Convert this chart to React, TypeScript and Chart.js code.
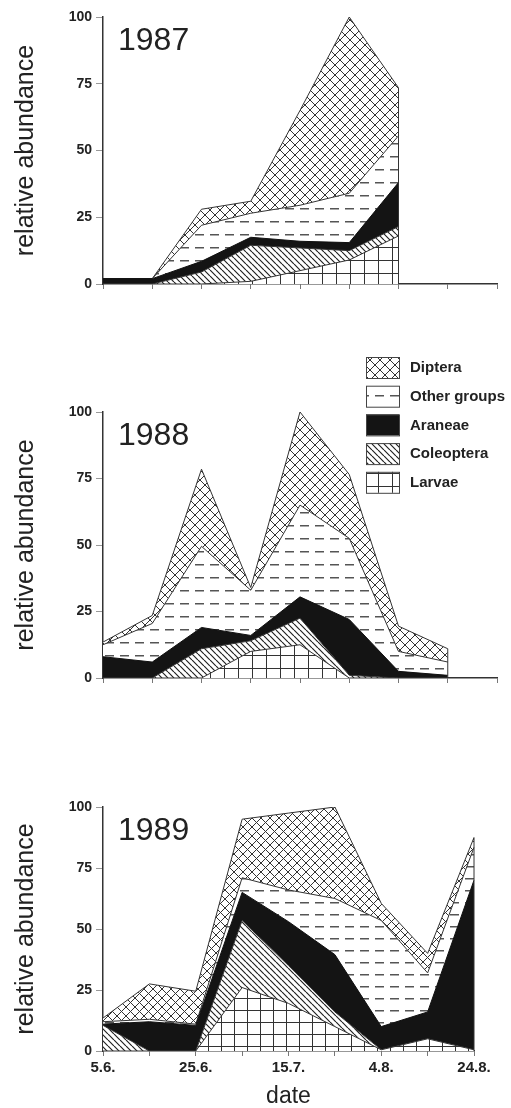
import React, { useEffect, useRef } from 'react';
import { Chart, registerables } from 'chart.js';
Chart.register(...registerables);

const FONT = "'Liberation Sans', Arial, Helvetica, sans-serif";

const dateLabels = ['5.6.', '15.6.', '25.6.', '5.7.', '15.7.', '25.7.', '4.8.', '14.8.', '24.8.'];
const shownDateIdx = [0, 2, 4, 6, 8];
const yTickValues = [0, 25, 50, 75, 100];
const legendNames = ['Diptera', 'Other groups', 'Araneae', 'Coleoptera', 'Larvae'];

// 1987 (stacked from bottom: Larvae, Coleoptera, Araneae, Other groups, Diptera)
const larvae1987 = [0, 0, 0, 1, 5, 9, 18];
const coleo1987 = [0, 0, 4.5, 13.5, 8.5, 3.5, 3.5];
const aran1987 = [2, 2, 4, 3, 2.5, 3, 16.5];
const other1987 = [0, 0, 13.5, 9, 13.5, 18.5, 17.5];
const dipt1987 = [0, 0, 6, 4.5, 35.5, 66, 18];

// 1988
const larvae1988 = [0, 0, 0, 10, 12.5, 0, 0, 0];
const coleo1988 = [0, 0, 11, 4, 10, 1, 0, 0];
const aran1988 = [8, 6, 8, 2, 8, 21, 2.5, 1];
const other1988 = [4.5, 14.5, 30.5, 17, 34.5, 30.5, 7.5, 5];
const dipt1988 = [1, 3, 29, 1, 35, 24, 9.5, 5];

// 1989
const larvae1989 = [0, 0, 0, 26, 19.5, 10, 0.5, 5, 0.5];
const coleo1989 = [10.5, 0, 0, 27.5, 15.5, 6, 0, 0, 0];
const aran1989 = [0.5, 12, 10.5, 11.5, 18, 23.5, 9.5, 11, 69.5];
const other1989 = [1, 1, 0.5, 6, 13, 23, 43.5, 16, 13.5];
const dipt1989 = [1.5, 14.5, 13.5, 24, 31.5, 37.5, 7, 8, 4];

function tile(w: number, h: number, draw: (c: CanvasRenderingContext2D) => void) {
  const c = document.createElement('canvas');
  c.width = w;
  c.height = h;
  const ctx = c.getContext('2d')!;
  ctx.fillStyle = '#fff';
  ctx.fillRect(0, 0, w, h);
  draw(ctx);
  return ctx.createPattern(c, 'repeat')!;
}

function makePatterns(s: number) {
  const n = Math.round(10 * s);
  const dipt = tile(n, n, (ctx) => {
    ctx.strokeStyle = '#333';
    ctx.lineWidth = 1;
    ctx.beginPath();
    for (const k of [-n, 0, n]) {
      ctx.moveTo(k, 0);
      ctx.lineTo(k + n, n);
      ctx.moveTo(k + n, 0);
      ctx.lineTo(k, n);
    }
    ctx.stroke();
  });
  const dh = Math.round(13.3 * s);
  const other = tile(15, dh, (ctx) => {
    ctx.fillStyle = '#555';
    ctx.fillRect(0, 0, 9, 1.5);
  });
  const m = Math.max(4, Math.round(6 * s));
  const coleo = tile(m, m, (ctx) => {
    ctx.strokeStyle = '#222';
    ctx.lineWidth = 1.2;
    ctx.beginPath();
    for (const k of [-m, 0, m]) {
      ctx.moveTo(k, 0);
      ctx.lineTo(k + m, m);
    }
    ctx.stroke();
  });
  const gw = Math.round(14 * s);
  const gh = Math.round(13 * s);
  const larvae = tile(gw, gh, (ctx) => {
    ctx.fillStyle = '#333';
    ctx.fillRect(0, 0, 1, gh);
    ctx.fillRect(0, 0, gw, 1);
  });
  return { dipt, other, aran: '#141414', coleo, larvae };
}

type PanelCfg = {
  year: string;
  larvae: number[];
  coleo: number[];
  aran: number[];
  other: number[];
  dipt: number[];
  padding: { top: number; right: number; bottom: number; left: number };
  xHeight: number;
  showDates: boolean;
  s: number;
  legend: boolean;
};

function buildChart(canvas: HTMLCanvasElement, cfg: PanelCfg) {
  const P = makePatterns(cfg.s);
  const legendFills: any[] = [P.dipt, P.other, P.aran, P.coleo, P.larvae];
  const decor = {
    id: 'panelDecor',
    afterDatasetsDraw(chart: any) {
      const { ctx, chartArea, scales } = chart;
      const ds = chart.data.datasets;
      const last = ds[0].data.length - 1;
      const total = ds.reduce((a: number, d: any) => a + (d.data[last] as number), 0);
      const x = scales.x.getPixelForValue(last);
      ctx.save();
      ctx.strokeStyle = '#333';
      ctx.lineWidth = 1;
      ctx.beginPath();
      ctx.moveTo(x, scales.y.getPixelForValue(0));
      ctx.lineTo(x, scales.y.getPixelForValue(total));
      ctx.stroke();
      ctx.font = `32px ${FONT}`;
      ctx.fillStyle = '#222';
      ctx.textBaseline = 'alphabetic';
      ctx.textAlign = 'left';
      ctx.fillText(cfg.year, chartArea.left + 15, chartArea.top + 33);
      if (cfg.legend) {
        legendNames.forEach((name, i) => {
          const bx = 366;
          const by = 27 + i * 28.7;
          ctx.fillStyle = legendFills[i];
          ctx.fillRect(bx, by, 33, 21);
          ctx.strokeStyle = '#444';
          ctx.lineWidth = 1;
          ctx.strokeRect(bx + 0.5, by + 0.5, 33, 21);
          ctx.fillStyle = '#222';
          ctx.font = `bold 15px ${FONT}`;
          ctx.textBaseline = 'middle';
          ctx.fillText(name, 410, by + 11);
        });
      }
      ctx.restore();
    },
  };

  const line = { borderColor: '#333', borderWidth: 1, pointRadius: 0, tension: 0 };
  return new Chart(canvas, {
    type: 'line',
    data: {
      labels: dateLabels,
      datasets: [
        { label: 'Larvae', data: cfg.larvae, fill: 'origin', backgroundColor: P.larvae as any, ...line },
        { label: 'Coleoptera', data: cfg.coleo, fill: '-1', backgroundColor: P.coleo as any, ...line },
        { label: 'Araneae', data: cfg.aran, fill: '-1', backgroundColor: P.aran, ...line, borderColor: '#111' },
        { label: 'Other groups', data: cfg.other, fill: '-1', backgroundColor: P.other as any, ...line },
        { label: 'Diptera', data: cfg.dipt, fill: '-1', backgroundColor: P.dipt as any, ...line },
      ],
    },
    options: {
      responsive: false,
      animation: false,
      layout: { padding: cfg.padding },
      plugins: { legend: { display: false }, tooltip: { enabled: false } },
      scales: {
        x: {
          type: 'category',
          offset: false,
          afterFit: (sc: any) => {
            sc.height = cfg.xHeight;
          },
          ticks: {
            display: true,
            autoSkip: false,
            maxRotation: 0,
            minRotation: 0,
            padding: 3,
            color: '#222',
            font: { family: FONT, size: 15, weight: 'bold' },
            callback: (_v: any, i: number) =>
              cfg.showDates && shownDateIdx.includes(i) ? dateLabels[i] : '',
          },
          grid: { display: true, drawOnChartArea: false, drawTicks: true, tickLength: 5, color: '#777' },
          border: { display: true, color: '#333', width: 1.5 },
          title: {
            display: cfg.showDates,
            text: 'date',
            color: '#222',
            font: { family: FONT, size: 23, lineHeight: 1 },
            padding: { top: 0, bottom: 0 },
          },
        },
        y: {
          type: 'linear',
          stacked: true,
          min: 0,
          max: 100,
          afterFit: (sc: any) => {
            sc.width = 103;
          },
          afterBuildTicks: (sc: any) => {
            sc.ticks = yTickValues.map((v) => ({ value: v }));
          },
          ticks: {
            padding: 4,
            color: '#222',
            font: { family: FONT, size: 14, weight: 'bold' },
            callback: (v: any) => String(v),
          },
          grid: { display: true, drawOnChartArea: false, drawTicks: true, tickLength: 7, color: '#999' },
          border: { display: true, color: '#333', width: 1.5 },
          title: {
            display: true,
            text: 'relative abundance',
            color: '#222',
            font: { family: FONT, size: 25, lineHeight: 1 },
            padding: { top: 14, bottom: 0 },
          },
        },
      },
    } as any,
    plugins: [decor],
  });
}

export default function App() {
  const r1 = useRef<HTMLCanvasElement>(null);
  const r2 = useRef<HTMLCanvasElement>(null);
  const r3 = useRef<HTMLCanvasElement>(null);

  useEffect(() => {
    const charts = [
      buildChart(r1.current!, {
        year: '1987',
        larvae: larvae1987,
        coleo: coleo1987,
        aran: aran1987,
        other: other1987,
        dipt: dipt1987,
        padding: { top: 17, right: 14, bottom: 16, left: 0 },
        xHeight: 30,
        showDates: false,
        s: 1,
        legend: false,
      }),
      buildChart(r2.current!, {
        year: '1988',
        larvae: larvae1988,
        coleo: coleo1988,
        aran: aran1988,
        other: other1988,
        dipt: dipt1988,
        padding: { top: 82, right: 14, bottom: 2, left: 0 },
        xHeight: 30,
        showDates: false,
        s: 1,
        legend: true,
      }),
      buildChart(r3.current!, {
        year: '1989',
        larvae: larvae1989,
        coleo: coleo1989,
        aran: aran1989,
        other: other1989,
        dipt: dipt1989,
        padding: { top: 97, right: 37, bottom: 0, left: 0 },
        xHeight: 57,
        showDates: true,
        s: 0.92,
        legend: false,
      }),
    ];
    return () => charts.forEach((c) => c.destroy());
  }, []);

  return (
    <div style={{ position: 'absolute', left: 0, top: 0, width: 511, height: 1108, background: '#fff' }}>
      <canvas ref={r1} width={511} height={330} style={{ position: 'absolute', left: 0, top: 0 }} />
      <canvas ref={r2} width={511} height={380} style={{ position: 'absolute', left: 0, top: 330 }} />
      <canvas ref={r3} width={511} height={398} style={{ position: 'absolute', left: 0, top: 710 }} />
    </div>
  );
}
